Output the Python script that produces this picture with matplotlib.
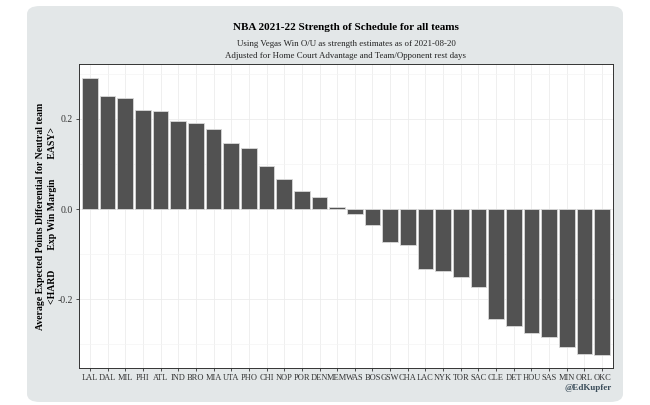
import matplotlib
matplotlib.use("Agg")
import matplotlib.pyplot as plt
from matplotlib.patches import FancyBboxPatch
from matplotlib.ticker import MultipleLocator

teams = ["LAL", "DAL", "MIL", "PHI", "ATL", "IND", "BRO", "MIA", "UTA", "PHO",
         "CHI", "NOP", "POR", "DEN", "MEM", "WAS", "BOS", "GSW", "CHA", "LAC",
         "NYK", "TOR", "SAC", "CLE", "DET", "HOU", "SAS", "MIN", "ORL", "OKC"]
sos = [0.292, 0.250, 0.247, 0.219, 0.218, 0.196, 0.191, 0.178, 0.147, 0.136,
       0.096, 0.067, 0.041, 0.027, 0.004, -0.012, -0.035, -0.073, -0.081, -0.133,
       -0.138, -0.151, -0.174, -0.245, -0.259, -0.275, -0.285, -0.307, -0.321, -0.324]
y_ticks = [-0.2, 0.0, 0.2]

plt.rcParams["font.family"] = ["Liberation Serif", "DejaVu Serif"]

fig = plt.figure(figsize=(6.5, 4.05), dpi=100)
fig.patch.set_facecolor("white")

# rounded grey card behind the plot
card = FancyBboxPatch((27 / 650, 3 / 405), 596 / 650, 396 / 405,
                      boxstyle="round,pad=0,rounding_size=0.02",
                      transform=fig.transFigure, facecolor="#e3e7e8",
                      edgecolor="none", zorder=0)
fig.patches.append(card)

ax = fig.add_axes([79 / 650, 37 / 405, 534 / 650, 304 / 405])
ax.set_zorder(2)
ax.set_facecolor("white")

x = list(range(len(teams)))
ax.bar(x, sos, width=0.88, color="#525252", edgecolor="#d9d9d9", linewidth=0.6, zorder=3)

ax.set_xlim(-0.62, len(teams) - 0.38)
ax.set_ylim(-0.353, 0.322)
ax.set_xticks(x)
ax.set_xticklabels(teams, fontsize=6, color="#333333")
ax.set_yticks(y_ticks)
ax.set_yticklabels(["-0.2", "0.0", "0.2"], fontsize=7, color="#333333")
ax.yaxis.set_minor_locator(MultipleLocator(0.1))
ax.tick_params(axis="both", which="major", length=2.5, width=0.6, color="#333333", pad=2)
ax.tick_params(axis="y", which="minor", length=0)

ax.grid(True, which="major", color="#ececec", linewidth=0.6, zorder=0)
ax.grid(True, which="minor", axis="y", color="#f4f4f4", linewidth=0.5, zorder=0)
ax.set_axisbelow(True)
for s in ax.spines.values():
    s.set_color("#333333")
    s.set_linewidth(0.7)

ax.set_ylabel("Average Expected Points Differential for Neutral team\n"
              "<HARD        Exp Win Margin        EASY>",
              fontsize=7, fontweight="bold", linespacing=1.5, labelpad=0)

fig.text(346 / 650, 1 - 28 / 405, "NBA 2021-22 Strength of Schedule for all teams",
         ha="center", va="center", fontsize=8, fontweight="bold")
fig.text(346 / 650, 1 - 44 / 405, "Using Vegas Win O/U as strength estimates as of 2021-08-20",
         ha="center", va="center", fontsize=6.4, color="#222222")
fig.text(346 / 650, 1 - 55.5 / 405, "Adjusted for Home Court Advantage and Team/Opponent rest days",
         ha="center", va="center", fontsize=6.4, color="#222222")
fig.text(612 / 650, 1 - 388 / 405, "@EdKupfer", ha="right", va="center",
         fontsize=6.5, fontweight="bold", color="#3b4d5a")

fig.savefig("out.png", dpi=100, facecolor=fig.get_facecolor())
